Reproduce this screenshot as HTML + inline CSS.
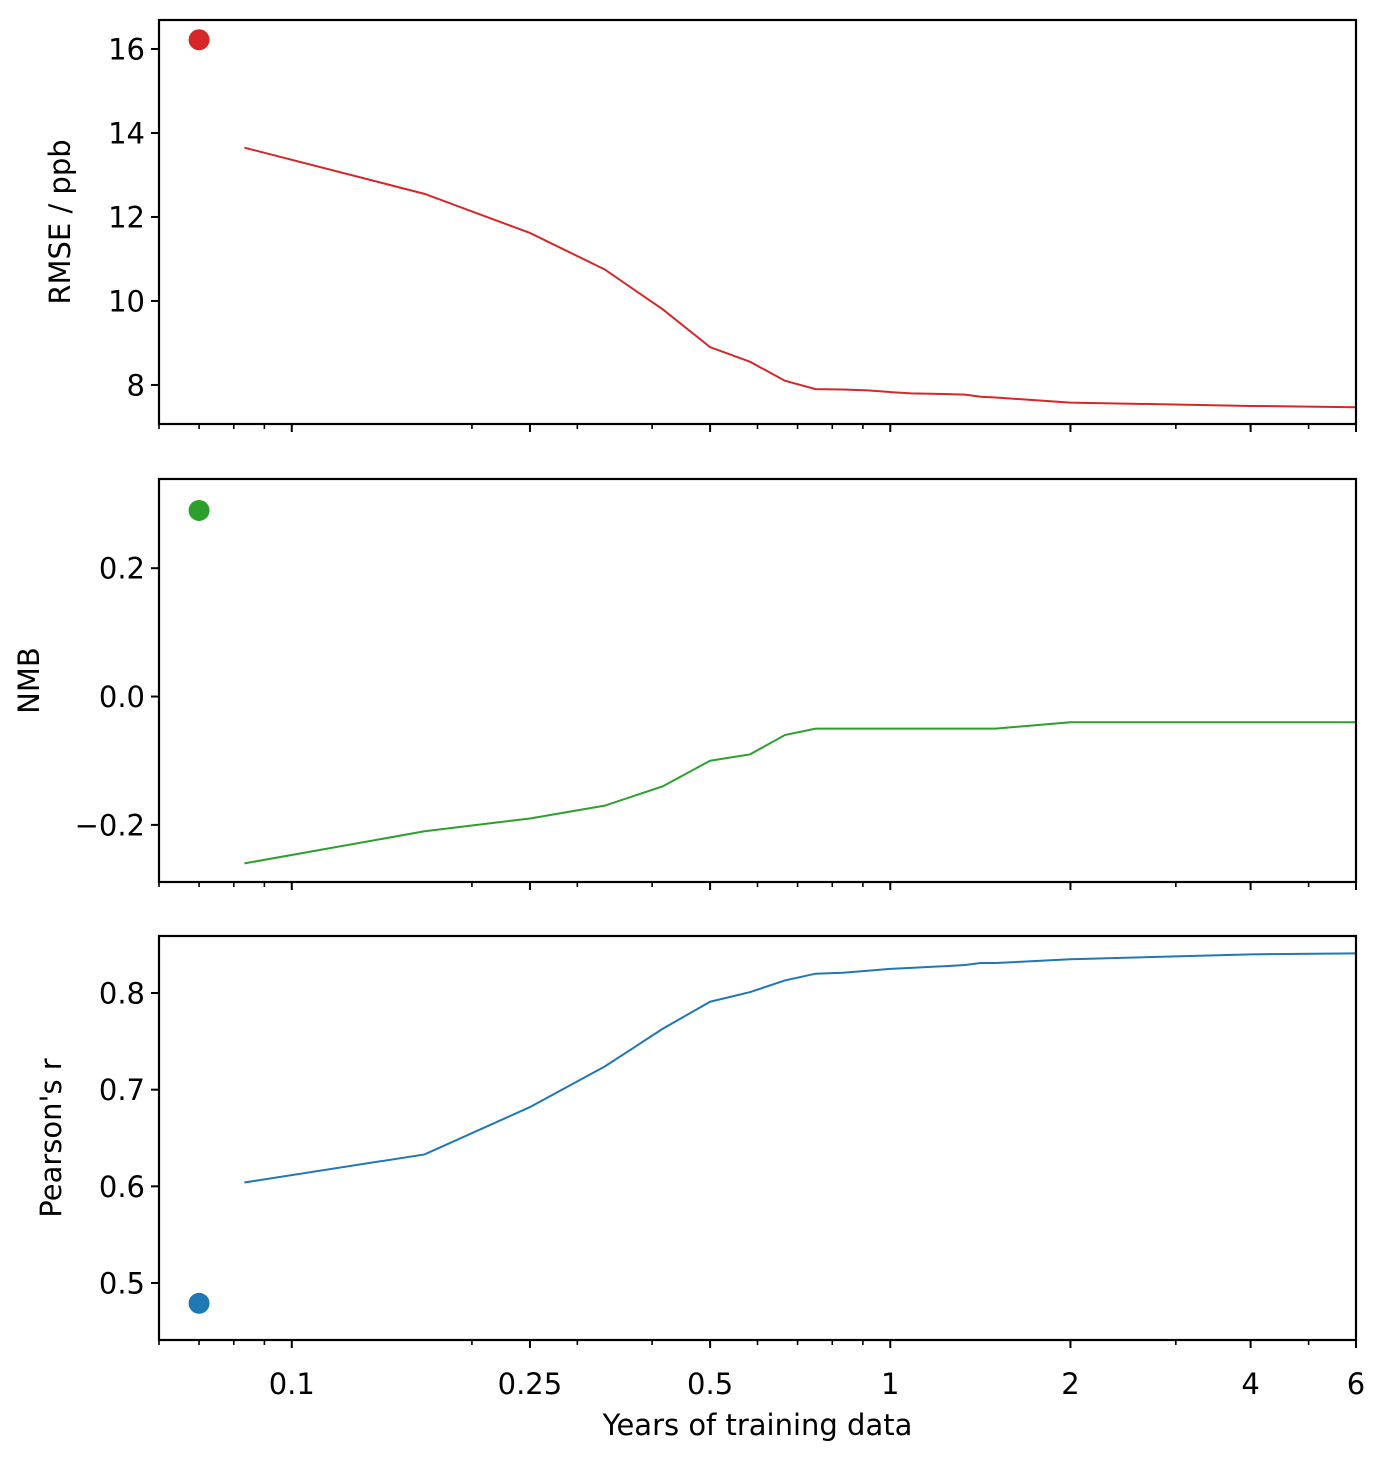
<!DOCTYPE html>
<html><head><meta charset="utf-8"><style>
body{margin:0;background:#fff;}
svg{display:block;font-family:"DejaVu Sans","Liberation Sans",sans-serif;}
</style></head><body>
<svg id="chart" width="1382" height="1460" viewBox="0 0 1382 1460"></svg>
<script>
const months=[1,2,3,4,5,6,7,8,9,10,11,12,13,14,15,16,17,18,24,48,72];
const rmseVals=[13.65,12.55,11.62,10.75,9.8,8.9,8.55,8.1,7.9,7.89,7.87,7.83,7.8,7.79,7.78,7.77,7.72,7.7,7.58,7.5,7.47];
const nmbVals=[-0.26,-0.21,-0.19,-0.17,-0.14,-0.10,-0.09,-0.06,-0.05,-0.05,-0.05,-0.05,-0.05,-0.05,-0.05,-0.05,-0.05,-0.05,-0.04,-0.04,-0.04];
const rVals=[0.604,0.633,0.682,0.724,0.763,0.791,0.801,0.813,0.820,0.821,0.823,0.825,0.826,0.827,0.828,0.829,0.831,0.831,0.835,0.840,0.841];
const baselineX=0.07;
const baselineVals=[16.22,0.29,0.479];
const xTickVals=[0.1,0.25,0.5,1,2,4,6];
const xTickLabels=["0.1","0.25","0.5","1","2","4","6"];
const rmseTicks=[8,10,12,14,16];
const nmbTicks=[-0.2,0.0,0.2];
const nmbTickLabels=["\u22120.2","0.0","0.2"];
const rTicks=[0.5,0.6,0.7,0.8];

const NS="http://www.w3.org/2000/svg";
const svg=document.getElementById('chart');
const X0=159,X1=1356;
const xmin=0.06,xmax=6;
const FS=29;
function sx(v){return X0+(Math.log10(v)-Math.log10(xmin))/(Math.log10(xmax)-Math.log10(xmin))*(X1-X0);}
function mk(tag,attrs,parent){const e=document.createElementNS(NS,tag);for(const k in attrs)e.setAttribute(k,attrs[k]);(parent||svg).appendChild(e);return e;}

const panels=[
 {name:'rmse',top:20,bot:424,ymin:7.07,ymax:16.69,vals:rmseVals,color:'#d62728',ticks:rmseTicks,labels:rmseTicks.map(String),title:'RMSE / ppb',titleX:70,base:baselineVals[0]},
 {name:'nmb',top:479,bot:882,ymin:-0.289,ymax:0.339,vals:nmbVals,color:'#2ca02c',ticks:nmbTicks,labels:nmbTickLabels,title:'NMB',titleX:39,base:baselineVals[1]},
 {name:'pearson',top:936,bot:1340,ymin:0.441,ymax:0.859,vals:rVals,color:'#1f77b4',ticks:rTicks,labels:rTicks.map(v=>v.toFixed(1)),title:"Pearson's r",titleX:61,base:baselineVals[2]}
];
const minors=[];
[0.01,0.1,1].forEach(d=>{for(let k=2;k<=9;k++){const v=k*d;if(v>=xmin-1e-9&&v<=xmax+1e-9)minors.push(v);}});

panels.forEach((p,pi)=>{
 const sy=v=>p.bot-(v-p.ymin)/(p.ymax-p.ymin)*(p.bot-p.top);
 const g=mk('g',{});
 
 
 const d=months.map((m,i)=>(i?'L':'M')+sx(m/12).toFixed(2)+','+sy(p.vals[i]).toFixed(2)).join(' ');
 const path=mk('path',{d:d,fill:'none',stroke:p.color,'stroke-width':2},g);
 
 
 const c=mk('circle',{cx:sx(baselineX),cy:sy(p.base),r:10.5,fill:p.color},g);
 
 
 const fr=mk('rect',{x:X0,y:p.top,width:X1-X0,height:p.bot-p.top,fill:'none',stroke:'#000','stroke-width':2.2},g);
 
 
 p.ticks.forEach((t,i)=>{
  const y=sy(t);
  mk('line',{x1:X0-8,x2:X0,y1:y,y2:y,stroke:'#000','stroke-width':2},g);
  const tx=mk('text',{x:X0-14,y:y+10.5,'text-anchor':'end','font-size':FS},g);
  tx.textContent=p.labels[i];
  
  
 });
 minors.forEach(v=>{const x=sx(v);mk('line',{x1:x,x2:x,y1:p.bot,y2:p.bot+5,stroke:'#000','stroke-width':1.6},g);});
 xTickVals.forEach((v,i)=>{
  const x=sx(v);
  mk('line',{x1:x,x2:x,y1:p.bot,y2:p.bot+8,stroke:'#000','stroke-width':2},g);
  if(pi===2){
   const tx=mk('text',{x:x,y:p.bot+54,'text-anchor':'middle','font-size':FS},g);
   tx.textContent=xTickLabels[i];
   
   
  }
 });
 const cy=(p.top+p.bot)/2;
 const yt=mk('text',{x:p.titleX,y:cy,'text-anchor':'middle','font-size':FS,transform:'rotate(-90 '+p.titleX+' '+cy+')'},g);
 yt.textContent=p.title;
 
 
});
const xt=mk('text',{x:(X0+X1)/2,y:1435,'text-anchor':'middle','font-size':FS});
xt.textContent='Years of training data';


</script>
</body></html>
